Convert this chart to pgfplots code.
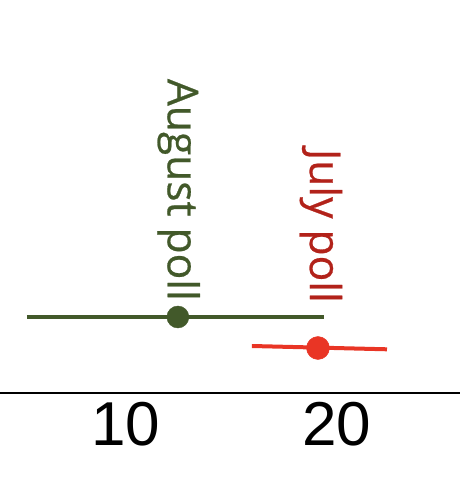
\documentclass[border=0pt]{standalone}
\usepackage{fontspec}
\setmainfont{Liberation Sans}
\newfontfamily\osans{Open Sans}[FakeBold=0.6]
\usepackage{pgfplots}
\pgfplotsset{compat=1.18}
\definecolor{ggreen}{RGB}{66,89,42}
\definecolor{rred}{RGB}{233,53,37}
\definecolor{rtext}{RGB}{178,34,26}
\begin{document}
\begin{tikzpicture}
\path[use as bounding box] (0,-105bp) rectangle (460bp,393bp);
\begin{axis}[
 scale only axis, width=460bp, height=393bp,
 xmin=4.03, xmax=25.83, ymin=0, ymax=393,
 axis x line=bottom, axis y line=none,
 axis line style={line width=1.5bp, -},
 xtick={10,20}, major tick length=0pt,
 ytick=\empty,
 /pgf/number format/assume math mode=true,
 xticklabel style={font=\fontsize{62bp}{62bp}\selectfont, inner sep=0pt, anchor=north, yshift=-9bp},
 clip=false,
]
\addplot[ggreen, line width=4.5bp, line cap=butt] coordinates {(5.3,76) (19.4,76)};
\addplot[only marks, mark=*, mark size=11bp, ggreen, mark options={draw=ggreen, fill=ggreen}] coordinates {(12.46,76)};
\addplot[rred, line width=4bp, line cap=butt] coordinates {(15.97,47) (22.37,43.7)};
\addplot[only marks, mark=*, mark size=11.5bp, rred, mark options={draw=rred, fill=rred}] coordinates {(19.1,45)};
\node[rotate=-90, anchor=east, inner sep=0pt, text=ggreen, font=\osans\fontsize{42.5bp}{42.5bp}\selectfont] at (axis cs:12.5,92) {August poll};
\node[rotate=-90, anchor=east, inner sep=0pt, text=rtext, font=\osans\fontsize{42.5bp}{42.5bp}\selectfont] at (axis cs:19.24,90) {July poll};
\end{axis}
\end{tikzpicture}
\end{document}
